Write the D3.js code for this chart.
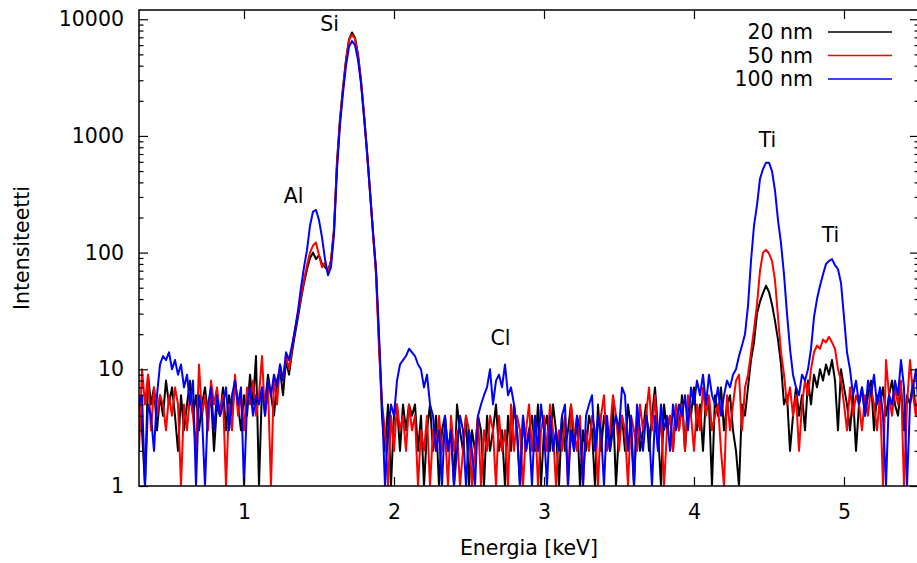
<!DOCTYPE html>
<html>
<head>
<meta charset="utf-8">
<script src="https://cdn.jsdelivr.net/npm/d3@7"></script>
<style>
  body { margin: 0; background: #fff; }
  text { font-family: "DejaVu Sans", sans-serif; }
</style>
</head>
<body>
<script>
// channel grid of the spectra (keV)
const energyStart = 0.30, energyStep = 0.02;

// counts per channel (rows of 10 channels, row start energy in comment)
const counts20 = [
  /*0.30*/ 6, 3, 1, 9, 5, 7, 3, 6, 4, 8,
  /*0.50*/ 5, 7, 4, 2, 6, 3, 5, 8, 4, 6,
  /*0.70*/ 3, 5, 7, 4, 6, 2, 5, 4, 7, 3,
  /*0.90*/ 6, 4, 8, 5, 3, 6, 4, 9, 5, 13,
  /*1.10*/ 1, 7, 5, 9, 6, 4, 8, 10, 6, 12,
  /*1.30*/ 9, 14, 20, 28, 40, 55, 72, 90, 100, 88,
  /*1.50*/ 95, 80, 75, 70, 85, 160, 600, 1400, 2600, 4500,
  /*1.70*/ 6700, 7700, 6900, 5000, 3000, 1550, 750, 340, 150, 70,
  /*1.90*/ 18, 4, 2, 5, 1, 4, 5, 2, 5, 3,
  /*2.10*/ 5, 4, 5, 2, 4, 1, 3, 5, 2, 4,
  /*2.30*/ 1, 3, 4, 2, 3, 1, 5, 3, 2, 4,
  /*2.50*/ 1, 3, 2, 4, 3, 1, 4, 2, 3, 5,
  /*2.70*/ 2, 3, 1, 4, 2, 5, 3, 1, 4, 2,
  /*2.90*/ 3, 4, 2, 5, 1, 3, 4, 2, 5, 3,
  /*3.10*/ 1, 4, 2, 3, 5, 2, 4, 1, 3, 2,
  /*3.30*/ 4, 3, 1, 5, 2, 4, 3, 2, 5, 1,
  /*3.50*/ 3, 4, 2, 5, 3, 1, 4, 2, 3, 5,
  /*3.70*/ 2, 4, 7, 3, 1, 5, 3, 4, 2, 5,
  /*3.90*/ 3, 6, 2, 5, 4, 7, 3, 5, 2, 6,
  /*4.10*/ 5, 1, 6, 4, 7, 3, 5, 6, 3, 2,
  /*4.30*/ 1, 5, 4, 7, 12, 17, 30, 38, 45, 52,
  /*4.50*/ 46, 36, 26, 18, 11, 5, 6, 2, 4, 7,
  /*4.70*/ 4, 6, 3, 8, 5, 9, 7, 10, 8, 11,
  /*4.90*/ 9, 12, 8, 3, 10, 7, 5, 3, 6, 2,
  /*5.10*/ 5, 7, 4, 6, 8, 3, 6, 5, 7, 4,
  /*5.30*/ 6, 8, 5, 4, 7, 3, 6, 5, 8, 4,
  /*5.50*/ 6
];

const counts50 = [
  /*0.30*/ 2, 10, 5, 9, 3, 7, 4, 6, 5, 3,
  /*0.50*/ 6, 4, 7, 5, 1, 5, 3, 6, 4, 2,
  /*0.70*/ 11, 4, 6, 3, 8, 5, 7, 4, 6, 1,
  /*0.90*/ 5, 3, 9, 4, 6, 3, 7, 5, 8, 4,
  /*1.10*/ 6, 13, 4, 7, 1, 9, 5, 11, 8, 13,
  /*1.30*/ 10, 15, 22, 30, 42, 58, 78, 100, 115, 122,
  /*1.50*/ 95, 75, 82, 68, 85, 155, 580, 1350, 2550, 4400,
  /*1.70*/ 6600, 7400, 6800, 4900, 2950, 1500, 730, 330, 145, 65,
  /*1.90*/ 15, 5, 3, 1, 4, 2, 5, 3, 4, 2,
  /*2.10*/ 5, 3, 4, 1, 3, 2, 4, 1, 3, 2,
  /*2.30*/ 4, 2, 3, 1, 4, 2, 3, 1, 2, 4,
  /*2.50*/ 3, 1, 2, 4, 1, 3, 2, 4, 3, 1,
  /*2.70*/ 4, 2, 3, 1, 5, 2, 4, 3, 1, 3,
  /*2.90*/ 5, 2, 4, 1, 3, 4, 2, 5, 3, 1,
  /*3.10*/ 3, 2, 4, 1, 5, 3, 2, 4, 1, 3,
  /*3.30*/ 2, 4, 3, 1, 4, 6, 2, 3, 6, 4,
  /*3.50*/ 2, 4, 3, 1, 4, 3, 2, 5, 3, 4,
  /*3.70*/ 7, 3, 6, 2, 4, 1, 3, 4, 2, 5,
  /*3.90*/ 3, 5, 2, 6, 4, 2, 5, 3, 7, 4,
  /*4.10*/ 6, 3, 4, 5, 2, 1, 6, 3, 5, 8,
  /*4.30*/ 9, 3, 7, 9, 14, 22, 36, 70, 100, 106,
  /*4.50*/ 98, 85, 58, 28, 14, 9, 5, 7, 4, 6,
  /*4.70*/ 2, 5, 8, 6, 10, 14, 16, 15, 18, 17,
  /*4.90*/ 19, 17, 15, 10, 8, 5, 3, 7, 4, 6,
  /*5.10*/ 5, 3, 6, 4, 7, 5, 3, 6, 1, 12,
  /*5.30*/ 6, 4, 7, 5, 8, 1, 5, 12, 6, 4,
  /*5.50*/ 7
];

const counts100 = [
  /*0.30*/ 5, 6, 1, 5, 4, 2, 6, 11, 13, 12,
  /*0.50*/ 14, 10, 12, 9, 11, 7, 9, 5, 8, 1,
  /*0.70*/ 6, 4, 1, 5, 7, 3, 6, 4, 5, 7,
  /*0.90*/ 3, 6, 8, 5, 7, 1, 5, 7, 4, 6,
  /*1.10*/ 5, 7, 4, 8, 6, 9, 7, 11, 8, 14,
  /*1.30*/ 12, 16, 22, 32, 50, 75, 105, 170, 225, 232,
  /*1.50*/ 190, 135, 88, 64, 75, 145, 520, 1250, 2350, 4000,
  /*1.70*/ 5800, 6500, 6000, 4500, 2800, 1450, 720, 330, 150, 72,
  /*1.90*/ 20, 5, 1, 3, 5, 4, 8, 11, 12, 13,
  /*2.10*/ 15, 14, 13, 11, 10, 7, 9, 5, 4, 2,
  /*2.30*/ 3, 1, 4, 2, 3, 1, 2, 4, 3, 1,
  /*2.50*/ 3, 2, 1, 4, 5, 6, 7, 10, 5, 8,
  /*2.70*/ 9, 7, 11, 6, 7, 5, 3, 1, 4, 2,
  /*2.90*/ 3, 1, 4, 2, 5, 3, 1, 4, 2, 3,
  /*3.10*/ 2, 4, 5, 1, 3, 2, 4, 3, 1, 4,
  /*3.30*/ 5, 6, 2, 4, 3, 1, 4, 2, 3, 4,
  /*3.50*/ 3, 7, 6, 2, 4, 1, 5, 3, 2, 4,
  /*3.70*/ 3, 1, 4, 2, 5, 3, 4, 2, 5, 3,
  /*3.90*/ 5, 4, 6, 3, 7, 5, 8, 6, 9, 5,
  /*4.10*/ 9, 6, 5, 7, 4, 6, 8, 7, 9, 10,
  /*4.30*/ 13, 16, 20, 35, 85, 170, 255, 430, 520, 590,
  /*4.50*/ 590, 500, 340, 190, 120, 65, 30, 15, 9, 7,
  /*4.70*/ 6, 9, 8, 10, 15, 28, 40, 52, 65, 80,
  /*4.90*/ 85, 88, 78, 72, 55, 28, 14, 10, 6, 8,
  /*5.10*/ 5, 7, 4, 8, 6, 9, 5, 7, 4, 1,
  /*5.30*/ 6, 5, 8, 6, 12, 7, 1, 5, 7, 10,
  /*5.50*/ 4
];

const seriesNames = ['20 nm', '50 nm', '100 nm'];
const xTicks = [1, 2, 3, 4, 5];
const yTicks = [1, 10, 100, 1000, 10000];

// peak annotations (element, energy keV, intensity)
const peakNames = ['Al', 'Si', 'Cl', 'Ti', 'Ti'];
const peakEnergy = [1.33, 1.57, 2.71, 4.49, 4.91];
const peakLevel = [305, 9050, 18.5, 920, 141];

const W = 917, H = 563;
const mLeft = 139, mRight = 919, mTop = 10, mBottom = 486;
const fontSize = 20.5;
const colors = ['#000000', '#ff0000', '#0000ff'];

const svg = d3.select('body').append('svg').attr('width', W).attr('height', H)

const x = d3.scaleLinear().domain([0.3, 5.5]).range([mLeft, mRight])
const y = d3.scaleLog().domain([1, 12000]).range([mBottom, mTop])

svg.append('clipPath').attr('id', 'plotclip')
  .append('rect').attr('x', mLeft).attr('y', mTop).attr('width', mRight - mLeft).attr('height', mBottom - mTop)

var line = d3.line()
  .x((d, i) => x(energyStart + i * energyStep))
  .y(d => y(d))

var plot = svg.append('g').attr('clip-path', 'url(#plotclip)')
;[counts20, counts50, counts100].forEach((series, k) => {
  plot.append('path')
    .attr('fill', 'none')
    .attr('stroke', colors[k])
    .attr('stroke-width', 2)
    .attr('stroke-linejoin', 'round')
    .attr('d', line(series))
})

// minor log ticks 2..9 in every decade
const yMinor = []
;[1, 10, 100, 1000].forEach(p => d3.range(2, 10).forEach(k => yMinor.push(k * p)))

function styleAxis(g) {
  g.select('.domain').remove()
  g.selectAll('line').attr('stroke', '#000').attr('stroke-width', 1.2)
  g.selectAll('text').attr('font-size', fontSize).attr('fill', '#000').attr('font-family', '"DejaVu Sans", sans-serif')
}

svg.append('g').attr('transform', `translate(0,${mBottom})`)
  .call(d3.axisBottom(x).tickValues(xTicks).tickFormat(d3.format('d')).tickSizeInner(-9).tickSizeOuter(0).tickPadding(18))
  .call(styleAxis)
svg.append('g').attr('transform', `translate(0,${mTop})`)
  .call(d3.axisTop(x).tickValues(xTicks).tickFormat('').tickSizeInner(-9).tickSizeOuter(0))
  .call(styleAxis)

svg.append('g').attr('transform', `translate(${mLeft},0)`)
  .call(d3.axisLeft(y).tickValues(yTicks).tickFormat(d3.format('d')).tickSizeInner(-9).tickSizeOuter(0).tickPadding(15))
  .call(styleAxis)
svg.append('g').attr('transform', `translate(${mLeft},0)`)
  .call(d3.axisLeft(y).tickValues(yMinor).tickFormat('').tickSizeInner(-4.5).tickSizeOuter(0))
  .call(styleAxis)
svg.append('g').attr('transform', `translate(${mRight},0)`)
  .call(d3.axisRight(y).tickValues(yTicks).tickFormat('').tickSizeInner(-9).tickSizeOuter(0))
  .call(styleAxis)
svg.append('g').attr('transform', `translate(${mRight},0)`)
  .call(d3.axisRight(y).tickValues(yMinor).tickFormat('').tickSizeInner(-4.5).tickSizeOuter(0))
  .call(styleAxis)

// border
svg.append('rect')
  .attr('x', mLeft).attr('y', mTop).attr('width', mRight - mLeft).attr('height', mBottom - mTop)
  .attr('fill', 'none').attr('stroke', '#000').attr('stroke-width', 1.5)

// axis titles
svg.append('text')
  .attr('x', (mLeft + mRight) / 2).attr('y', 548)
  .attr('text-anchor', 'middle').attr('dominant-baseline', 'central')
  .attr('font-size', fontSize)
  .text('Energia [keV]')
svg.append('text')
  .attr('transform', 'translate(22,248) rotate(-90)')
  .attr('text-anchor', 'middle').attr('dominant-baseline', 'central')
  .attr('font-size', fontSize)
  .text('Intensiteetti')

// peak labels
svg.selectAll('text.peak')
  .data(peakNames)
  .enter().append('text')
    .attr('class', 'peak')
    .attr('x', (d, i) => x(peakEnergy[i]))
    .attr('y', (d, i) => y(peakLevel[i]))
    .attr('text-anchor', 'middle').attr('dominant-baseline', 'central')
    .attr('font-size', fontSize)
    .text(d => d)

// key
var key = svg.append('g')
seriesNames.forEach((name, k) => {
  var ky = 32 + k * 23.5
  key.append('text')
    .attr('x', 813).attr('y', ky)
    .attr('text-anchor', 'end').attr('dominant-baseline', 'central')
    .attr('font-size', fontSize)
    .text(name)
  key.append('line')
    .attr('x1', 828).attr('x2', 892).attr('y1', ky).attr('y2', ky)
    .attr('stroke', colors[k]).attr('stroke-width', 1.6)
})
</script>
</body>
</html>
